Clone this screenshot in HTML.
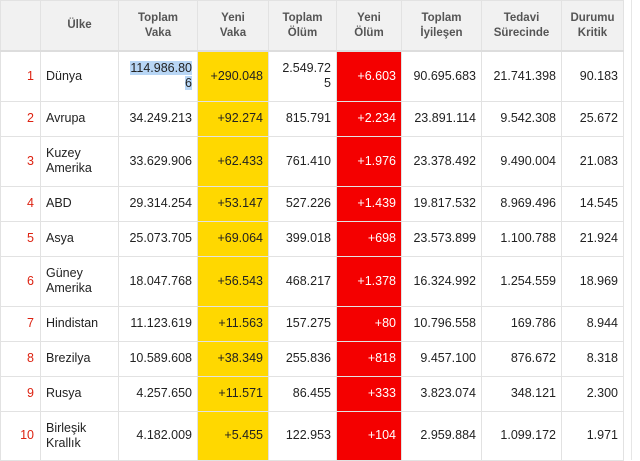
<!DOCTYPE html>
<html><head><meta charset="utf-8"><style>
body{margin:0;width:640px;height:460px;overflow:hidden;background:#fff;font-family:"Liberation Sans",sans-serif;}
table{position:absolute;left:0;top:0;border-collapse:collapse;table-layout:fixed;width:623px;font-size:12.5px;color:#222;}
td,th{border:1px solid #e2e2e2;padding:0 5px;overflow:hidden;line-height:15px;}
th{background:#f1f1f1;color:#555;font-weight:bold;font-size:11.5px;text-align:center;height:49px;border-bottom:2px solid #ddd}
td{text-align:right}
td.n{color:#d21;padding-right:6px}
td.c{text-align:left}
td.y{background:#ffd800}
td.r{background:#f40000;color:#fff}
.sel{background:#b8d6f5}
.side{position:absolute;left:631px;top:0;width:1px;height:460px;background:#e6e6e6}
</style></head><body>
<table>
<colgroup><col style="width:40px"><col style="width:78px"><col style="width:79px"><col style="width:71px"><col style="width:68px"><col style="width:65px"><col style="width:80px"><col style="width:80px"><col style="width:62px"></colgroup>
<tr><th></th><th>Ülke</th><th>Toplam<br>Vaka</th><th>Yeni<br>Vaka</th><th>Toplam<br>Ölüm</th><th>Yeni<br>Ölüm</th><th>Toplam<br>İyileşen</th><th>Tedavi<br>Sürecinde</th><th>Durumu<br>Kritik</th></tr>
<tr style="height:50px"><td class="n">1</td><td class="c">Dünya</td><td><span class="sel">114.986.80<br>6</span></td><td class="y">+290.048</td><td>2.549.72<br>5</td><td class="r">+6.603</td><td>90.695.683</td><td>21.741.398</td><td>90.183</td></tr>
<tr style="height:35px"><td class="n">2</td><td class="c">Avrupa</td><td>34.249.213</td><td class="y">+92.274</td><td>815.791</td><td class="r">+2.234</td><td>23.891.114</td><td>9.542.308</td><td>25.672</td></tr>
<tr style="height:50px"><td class="n">3</td><td class="c">Kuzey<br>Amerika</td><td>33.629.906</td><td class="y">+62.433</td><td>761.410</td><td class="r">+1.976</td><td>23.378.492</td><td>9.490.004</td><td>21.083</td></tr>
<tr style="height:35px"><td class="n">4</td><td class="c">ABD</td><td>29.314.254</td><td class="y">+53.147</td><td>527.226</td><td class="r">+1.439</td><td>19.817.532</td><td>8.969.496</td><td>14.545</td></tr>
<tr style="height:35px"><td class="n">5</td><td class="c">Asya</td><td>25.073.705</td><td class="y">+69.064</td><td>399.018</td><td class="r">+698</td><td>23.573.899</td><td>1.100.788</td><td>21.924</td></tr>
<tr style="height:50px"><td class="n">6</td><td class="c">Güney<br>Amerika</td><td>18.047.768</td><td class="y">+56.543</td><td>468.217</td><td class="r">+1.378</td><td>16.324.992</td><td>1.254.559</td><td>18.969</td></tr>
<tr style="height:35px"><td class="n">7</td><td class="c">Hindistan</td><td>11.123.619</td><td class="y">+11.563</td><td>157.275</td><td class="r">+80</td><td>10.796.558</td><td>169.786</td><td>8.944</td></tr>
<tr style="height:35px"><td class="n">8</td><td class="c">Brezilya</td><td>10.589.608</td><td class="y">+38.349</td><td>255.836</td><td class="r">+818</td><td>9.457.100</td><td>876.672</td><td>8.318</td></tr>
<tr style="height:35px"><td class="n">9</td><td class="c">Rusya</td><td>4.257.650</td><td class="y">+11.571</td><td>86.455</td><td class="r">+333</td><td>3.823.074</td><td>348.121</td><td>2.300</td></tr>
<tr style="height:49px"><td class="n">10</td><td class="c">Birleşik<br>Krallık</td><td>4.182.009</td><td class="y">+5.455</td><td>122.953</td><td class="r">+104</td><td>2.959.884</td><td>1.099.172</td><td>1.971</td></tr>
</table>
<div class="side"></div>
</body></html>
